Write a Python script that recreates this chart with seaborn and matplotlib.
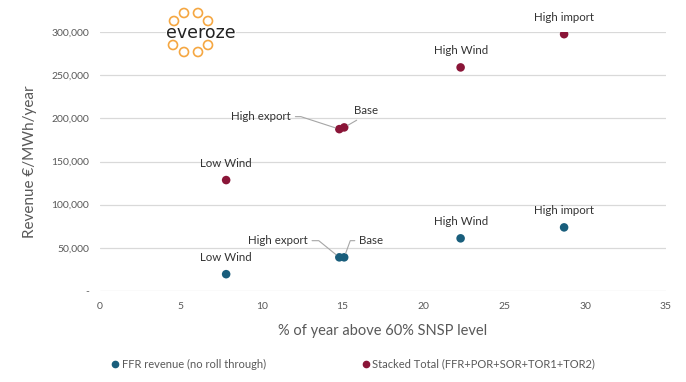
import matplotlib
matplotlib.use("Agg")
import matplotlib.pyplot as plt
import matplotlib.patches as mpatches
from matplotlib.ticker import FuncFormatter
from matplotlib.lines import Line2D
import seaborn as sns
import pandas as pd

# data
scenarios = ["Low Wind", "High export", "Base", "High Wind", "High import"]
snsp_pct = [7.8, 14.8, 15.1, 22.3, 28.7]
ffr_revenue = [19500, 39000, 39000, 61000, 73700]
stacked_revenue = [128500, 187500, 189500, 259000, 297500]

series_names = ["FFR revenue (no roll through)",
                "Stacked Total (FFR+POR+SOR+TOR1+TOR2)"]
x_ticks = [0, 5, 10, 15, 20, 25, 30, 35]
y_ticks = [0, 50000, 100000, 150000, 200000, 250000, 300000]

RED = "#8a1538"
TEAL = "#195e7c"
GREY = "#595959"

df = pd.concat([
    pd.DataFrame({"scenario": scenarios, "snsp": snsp_pct,
                  "revenue": ffr_revenue, "series": series_names[0]}),
    pd.DataFrame({"scenario": scenarios, "snsp": snsp_pct,
                  "revenue": stacked_revenue, "series": series_names[1]}),
])

sns.set_style("white")
plt.rcParams["font.family"] = ["Lato", "DejaVu Sans"]

fig = plt.figure(figsize=(6.86, 3.82), dpi=100)
ax = fig.add_axes([0.1458, 0.2382, 0.8250, 0.6780])

sns.scatterplot(data=df, x="snsp", y="revenue", hue="series",
                palette=[TEAL, RED], s=38, edgecolor="none",
                legend=False, ax=ax, zorder=3)

ax.set_xlim(0, 35)
ax.set_ylim(0, 300000)
ax.set_xticks(x_ticks)
ax.set_yticks(y_ticks)
ax.yaxis.set_major_formatter(FuncFormatter(lambda v, p: "-" if v == 0 else f"{v:,.0f}"))
ax.grid(axis="y", color="#d9d9d9", lw=0.9)
ax.grid(axis="x", visible=False)
for sp in ax.spines.values():
    sp.set_visible(False)
ax.tick_params(length=0, labelsize=7.5, labelcolor=GREY, pad=8)
ax.set_xlabel("% of year above 60% SNSP level", fontsize=10.5, color=GREY, labelpad=9)
ax.set_ylabel("Revenue €/MWh/year", fontsize=11, color=GREY, labelpad=10)

# point labels, with elbow leader lines for the two crowded scenarios
lead = dict(arrowstyle="-", color="#a6a6a6", lw=0.8, shrinkA=1, shrinkB=3)
leaders = {
    ("High export", 0): ((-35, 9), "right", "angle,angleA=0,angleB=162,rad=0"),
    ("High export", 1): ((-23, 12), "right", "angle,angleA=0,angleB=141,rad=0"),
    ("Base", 0): ((7, 12), "left", "arc3"),
    ("Base", 1): ((11, 12), "left", "angle,angleA=0,angleB=70,rad=0"),
}
for i, name in enumerate(scenarios):
    for yv, k in ((stacked_revenue[i], 0), (ffr_revenue[i], 1)):
        if (name, k) in leaders:
            off, ha, conn = leaders[(name, k)]
            rel = (1, 0.5) if ha == "right" else (0, 0.5)
            if name == "Base" and k == 0:
                rel = (0.4, 0)
            ax.annotate(name, (snsp_pct[i], yv), xytext=off,
                        textcoords="offset points", ha=ha, va="center",
                        fontsize=8.3, color="#333333",
                        arrowprops=dict(relpos=rel, connectionstyle=conn, **lead))
        else:
            ax.annotate(name, (snsp_pct[i], yv), xytext=(0, 12),
                        textcoords="offset points", ha="center", va="center",
                        fontsize=8.3, color="#333333")

# legend below
handles = [Line2D([], [], ls="", marker="o", ms=4.5, color=c) for c in (TEAL, RED)]
fig.legend(handles, series_names, loc="center left", bbox_to_anchor=(0.148, 0.047),
           ncol=2, frameon=False, fontsize=8, labelcolor=GREY,
           handlelength=0.6, handletextpad=0.3, columnspacing=8.7)

# everoze logo
W, H = 686, 382
fig.text(201 / W, 1 - 33 / H, "everoze", fontsize=12.5, color="#222222",
         ha="center", va="center", family=["DejaVu Sans"], zorder=4,
         bbox=dict(fc="white", ec="none", pad=0))
for cx, cy in [(174, 21), (184, 13), (198, 13), (208, 21),
               (173, 45), (184, 52), (198, 52), (208, 45)]:
    fig.add_artist(mpatches.Ellipse((cx / W, 1 - cy / H), 9 / W, 9 / H,
                                    fill=False, ec="#f5a742", lw=1.2, zorder=5))

fig.savefig("out.png", dpi=100, facecolor="white")
